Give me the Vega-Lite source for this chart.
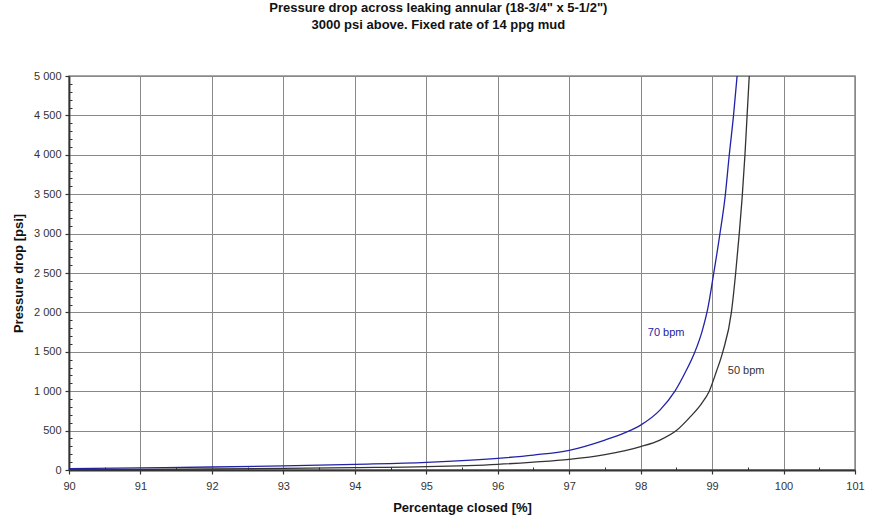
{
  "$schema": "https://vega.github.io/schema/vega-lite/v6.json",
  "width": 786,
  "height": 394,
  "autosize": {"type": "none"},
  "padding": {"left": 69, "top": 76, "right": 14, "bottom": 54},
  "background": "white",
  "config": {
    "font": "Liberation Sans",
    "view": {"stroke": "#8a8a8a", "strokeWidth": 1.5}
  },
  "title": {
    "text": ["Pressure drop across leaking annular (18-3/4\" x 5-1/2\")", "3000 psi above. Fixed rate of 14 ppg mud"],
    "font": "Liberation Sans",
    "fontSize": 13,
    "fontWeight": "bold",
    "color": "#111",
    "anchor": "middle",
    "frame": "bounds",
    "offset": 38,
    "lineHeight": 17
  },
  "datasets": {
    "curves": [
      {"pct": 90, "psi": 18, "series": "70 bpm"},
      {"pct": 91, "psi": 28, "series": "70 bpm"},
      {"pct": 92, "psi": 38, "series": "70 bpm"},
      {"pct": 93, "psi": 52, "series": "70 bpm"},
      {"pct": 94, "psi": 72, "series": "70 bpm"},
      {"pct": 95, "psi": 97, "series": "70 bpm"},
      {"pct": 96, "psi": 148, "series": "70 bpm"},
      {"pct": 96.5, "psi": 190, "series": "70 bpm"},
      {"pct": 97, "psi": 250, "series": "70 bpm"},
      {"pct": 97.5, "psi": 380, "series": "70 bpm"},
      {"pct": 97.8, "psi": 480, "series": "70 bpm"},
      {"pct": 98, "psi": 570, "series": "70 bpm"},
      {"pct": 98.27, "psi": 760, "series": "70 bpm"},
      {"pct": 98.48, "psi": 1000, "series": "70 bpm"},
      {"pct": 98.62, "psi": 1230, "series": "70 bpm"},
      {"pct": 98.76, "psi": 1500, "series": "70 bpm"},
      {"pct": 98.86, "psi": 1760, "series": "70 bpm"},
      {"pct": 98.94, "psi": 2050, "series": "70 bpm"},
      {"pct": 99.02, "psi": 2480, "series": "70 bpm"},
      {"pct": 99.11, "psi": 3000, "series": "70 bpm"},
      {"pct": 99.18, "psi": 3450, "series": "70 bpm"},
      {"pct": 99.24, "psi": 3994, "series": "70 bpm"},
      {"pct": 99.3, "psi": 4500, "series": "70 bpm"},
      {"pct": 99.35, "psi": 5000, "series": "70 bpm"},
      {"pct": 90, "psi": 5, "series": "50 bpm"},
      {"pct": 91, "psi": 8, "series": "50 bpm"},
      {"pct": 92, "psi": 13, "series": "50 bpm"},
      {"pct": 93, "psi": 20, "series": "50 bpm"},
      {"pct": 94, "psi": 30, "series": "50 bpm"},
      {"pct": 95, "psi": 42, "series": "50 bpm"},
      {"pct": 96, "psi": 72, "series": "50 bpm"},
      {"pct": 96.5, "psi": 100, "series": "50 bpm"},
      {"pct": 97, "psi": 135, "series": "50 bpm"},
      {"pct": 97.5, "psi": 195, "series": "50 bpm"},
      {"pct": 98, "psi": 296, "series": "50 bpm"},
      {"pct": 98.27, "psi": 380, "series": "50 bpm"},
      {"pct": 98.5, "psi": 500, "series": "50 bpm"},
      {"pct": 98.7, "psi": 680, "series": "50 bpm"},
      {"pct": 98.85, "psi": 840, "series": "50 bpm"},
      {"pct": 98.96, "psi": 1000, "series": "50 bpm"},
      {"pct": 99.06, "psi": 1250, "series": "50 bpm"},
      {"pct": 99.15, "psi": 1500, "series": "50 bpm"},
      {"pct": 99.27, "psi": 2000, "series": "50 bpm"},
      {"pct": 99.33, "psi": 2500, "series": "50 bpm"},
      {"pct": 99.38, "psi": 3000, "series": "50 bpm"},
      {"pct": 99.42, "psi": 3450, "series": "50 bpm"},
      {"pct": 99.46, "psi": 4000, "series": "50 bpm"},
      {"pct": 99.49, "psi": 4500, "series": "50 bpm"},
      {"pct": 99.52, "psi": 5000, "series": "50 bpm"}
    ],
    "labels": [
      {"pct": 98.1, "psi": 1741, "series": "70 bpm", "label": "70 bpm"},
      {"pct": 99.22, "psi": 1255, "series": "50 bpm", "label": "50 bpm"}
    ]
  },
  "layer": [
    {
      "data": {"name": "curves"},
      "mark": {"type": "line", "strokeWidth": 1.3, "clip": true, "interpolate": "monotone"},
      "encoding": {
        "x": {
          "field": "pct", "type": "quantitative",
          "scale": {"domain": [90, 101], "nice": false, "zero": false},
          "axis": {
            "values": [90, 91, 92, 93, 94, 95, 96, 97, 98, 99, 100, 101],
            "labelFlush": false,
            "title": "Percentage closed [%]",
            "titleFont": "Liberation Sans", "titleFontSize": 13, "titleFontWeight": "bold", "titleColor": "#111",
            "titlePadding": 10,
            "labelFont": "Liberation Sans", "labelFontSize": 11, "labelColor": "#333", "labelPadding": 6,
            "tickSize": 4, "tickColor": "#333", "tickWidth": 1.2,
            "domainColor": "#333", "domainWidth": 1.8,
            "grid": true, "gridColor": "#888", "gridWidth": 1
          }
        },
        "y": {
          "field": "psi", "type": "quantitative",
          "scale": {"domain": [0, 5000], "nice": false},
          "axis": {
            "values": [0, 500, 1000, 1500, 2000, 2500, 3000, 3500, 4000, 4500, 5000],
            "labelExpr": "replace(format(datum.value, ','), ',', ' ')",
            "labelFlush": false,
            "title": "Pressure drop [psi]",
            "titleFont": "Liberation Sans", "titleFontSize": 13, "titleFontWeight": "bold", "titleColor": "#111",
            "titlePadding": 8,
            "labelFont": "Liberation Sans", "labelFontSize": 11, "labelColor": "#333", "labelPadding": 4,
            "tickSize": 4, "tickColor": "#333", "tickWidth": 1.2,
            "domainColor": "#333", "domainWidth": 1.8,
            "grid": true, "gridColor": "#888", "gridWidth": 1
          }
        },
        "color": {
          "field": "series", "type": "nominal",
          "scale": {"domain": ["70 bpm", "50 bpm"], "range": ["#2222a8", "#333333"]},
          "legend": null
        }
      }
    },
    {
      "data": {"name": "labels"},
      "mark": {"type": "text", "align": "left", "baseline": "middle", "font": "Liberation Sans", "fontSize": 11},
      "encoding": {
        "x": {
          "field": "pct", "type": "quantitative",
          "axis": {
            "orient": "bottom",
            "values": [90.5, 91.5, 92.5, 93.5, 94.5, 95.5, 96.5, 97.5, 98.5, 99.5, 100.5],
            "labels": false, "title": null, "grid": false, "domain": false,
            "tickSize": -3, "tickColor": "#333", "tickWidth": 1
          }
        },
        "y": {
          "field": "psi", "type": "quantitative",
          "axis": {
            "orient": "left",
            "values": [100, 200, 300, 400, 600, 700, 800, 900, 1100, 1200, 1300, 1400, 1600, 1700, 1800, 1900, 2100, 2200, 2300, 2400, 2600, 2700, 2800, 2900, 3100, 3200, 3300, 3400, 3600, 3700, 3800, 3900, 4100, 4200, 4300, 4400, 4600, 4700, 4800, 4900],
            "labels": false, "title": null, "grid": false, "domain": false,
            "tickSize": -3, "tickColor": "#333", "tickWidth": 1
          }
        },
        "text": {"field": "label", "type": "nominal"},
        "color": {"field": "series", "type": "nominal", "legend": null}
      }
    }
  ],
  "resolve": {"axis": {"x": "independent", "y": "independent"}}
}
